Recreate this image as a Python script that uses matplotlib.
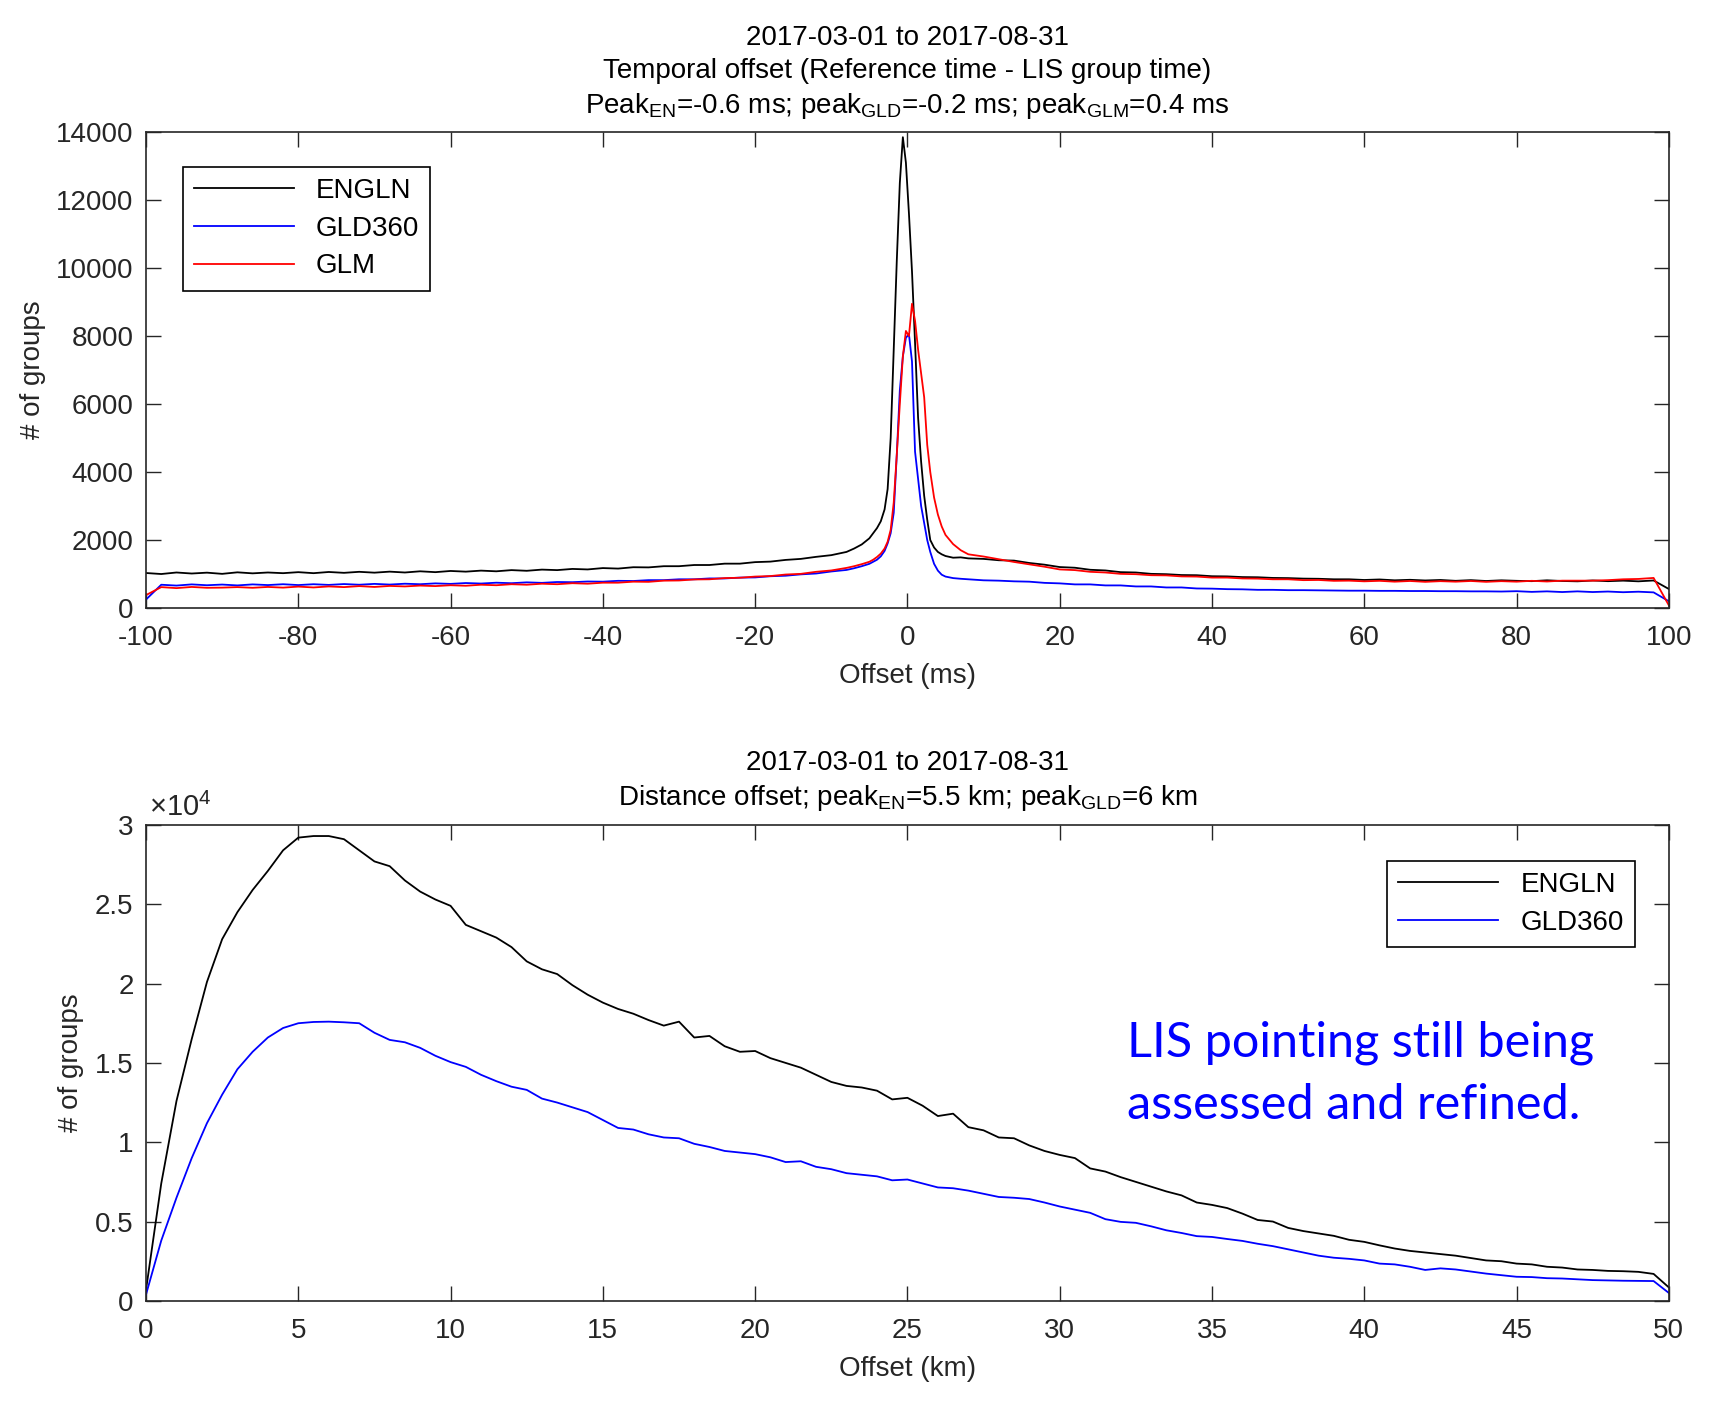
import numpy as np
import matplotlib.pyplot as plt
from matplotlib.ticker import FuncFormatter

plt.rcParams['font.family'] = ['Liberation Sans', 'DejaVu Sans']
plt.rcParams['mathtext.fontset'] = 'custom'
plt.rcParams['mathtext.rm'] = 'Liberation Sans'
plt.rcParams['mathtext.it'] = 'Liberation Sans:italic'
plt.rcParams['axes.unicode_minus'] = False

# ---- temporal offset histogram (ms) ----
t_left = np.arange(-100, -7, 2)
t_mid = [-7, -6, -5, -4.5, -4, -3.5, -3, -2.6, -2.2, -1.8, -1.4, -1.0, -0.6, -0.2,
         0.2, 0.6, 1.0, 1.4, 1.8, 2.2, 2.6, 3.0, 3.5, 4, 4.5, 5, 6, 7]
t_right = np.arange(8, 101, 2)
t_offset = np.concatenate([t_left, t_mid, t_right])

engln_t = [1030, 1000, 1045, 1015, 1040, 1005, 1050, 1020, 1045, 1025,
           1055, 1025, 1060, 1035, 1065, 1040, 1070, 1045, 1080, 1055,
           1090, 1070, 1100, 1080, 1115, 1095, 1130, 1115, 1150, 1135,
           1175, 1160, 1200, 1195, 1230, 1230, 1265, 1265, 1305, 1305,
           1350, 1365, 1415, 1445, 1505, 1555, 1650,
           1750, 1870, 2050, 2200, 2350, 2550, 2900, 3500, 5000, 7600, 10200, 12500, 13850, 13100,
           11600, 9900, 7800, 5600, 4300, 3300, 2600, 2000, 1780, 1650, 1580, 1530, 1480, 1490,
           1460, 1445, 1405, 1395, 1325, 1275, 1205, 1185, 1125, 1105,
           1055, 1045, 1005, 995, 970, 965, 935, 930, 910, 905,
           885, 880, 865, 860, 845, 845, 825, 840, 815, 830,
           810, 825, 800, 820, 795, 815, 800, 790, 815, 795,
           785, 810, 790, 805, 785, 810, 560]

gld_t = [250, 685, 660, 695, 670, 690, 665, 695, 675, 700,
         675, 700, 680, 705, 685, 710, 690, 715, 700, 725,
         710, 735, 720, 745, 730, 755, 740, 765, 760, 780,
         775, 800, 795, 820, 820, 845, 845, 870, 870, 895,
         900, 935, 950, 990, 1015, 1075, 1120,
         1170, 1230, 1300, 1360, 1420, 1520, 1680, 1900, 2200, 2800, 4500, 6400, 7400, 7950,
         8050, 7250, 4600, 3800, 3000, 2500, 2000, 1650, 1300, 1100, 980, 925, 880, 860,
         845, 815, 805, 785, 775, 740, 725, 695, 695, 665,
         665, 635, 635, 605, 605, 575, 570, 555, 550, 535,
         535, 525, 525, 520, 515, 510, 510, 505, 505, 500,
         500, 495, 495, 490, 490, 485, 495, 475, 490, 470,
         490, 470, 485, 465, 480, 460, 200]

glm_t = [380, 615, 585, 620, 595, 600, 615, 595, 620, 600,
         630, 605, 635, 615, 645, 620, 650, 635, 660, 645,
         670, 655, 685, 670, 700, 685, 715, 700, 730, 715,
         745, 745, 775, 770, 805, 810, 840, 845, 880, 890,
         925, 940, 985, 1005, 1065, 1105, 1180,
         1230, 1290, 1360, 1420, 1500, 1600, 1750, 1950, 2300, 3100, 4500, 6000, 7400, 8150,
         8000, 8950, 8450, 7600, 6900, 6200, 4800, 4000, 3250, 2750, 2400, 2150, 1880, 1700,
         1580, 1515, 1435, 1355, 1285, 1215, 1135, 1115, 1065, 1045,
         1005, 995, 965, 960, 930, 925, 895, 895, 870, 865,
         845, 845, 820, 825, 800, 805, 785, 800, 775, 795,
         770, 790, 775, 795, 770, 790, 775, 800, 780, 805,
         805, 805, 820, 845, 855, 885, 80]

# ---- distance offset histogram (km) ----
d_offset = np.arange(0, 50.01, 0.5)
engln_d = [700, 7400, 12600, 16500, 20100, 22800, 24500, 25900, 27100, 28400,
           29200, 29300, 29300, 29100, 28400, 27700, 27400, 26500, 25800, 25300,
           24900, 23700, 23300, 22900, 22300, 21400, 20900, 20600, 19900, 19300,
           18800, 18400, 18100, 17700, 17350, 17600, 16600, 16700, 16050, 15700,
           15750, 15300, 15000, 14700, 14250, 13800, 13550, 13450, 13250, 12700,
           12800, 12300, 11650, 11800, 10950, 10750, 10300, 10250, 9800, 9450,
           9200, 9000, 8350, 8150, 7800, 7500, 7200, 6900, 6650, 6200,
           6050, 5850, 5500, 5100, 5000, 4600, 4400, 4250, 4100, 3850,
           3720, 3500, 3300, 3150, 3050, 2950, 2850, 2700, 2550, 2500,
           2350, 2300, 2150, 2100, 1980, 1950, 1890, 1870, 1830, 1700, 850]
gld_d = [400, 3800, 6500, 9000, 11200, 13000, 14600, 15700, 16600, 17200,
         17500, 17580, 17600, 17560, 17500, 16900, 16450, 16300, 15950, 15450,
         15050, 14750, 14250, 13850, 13500, 13300, 12750, 12500, 12200, 11900,
         11400, 10900, 10800, 10500, 10300, 10250, 9900, 9700, 9450, 9350,
         9250, 9050, 8750, 8800, 8450, 8300, 8050, 7950, 7850, 7600,
         7650, 7400, 7150, 7100, 6950, 6750, 6550, 6500, 6420, 6200,
         5950, 5750, 5550, 5150, 4980, 4920, 4700, 4450, 4280, 4080,
         4030, 3900, 3780, 3600, 3450, 3250, 3050, 2850, 2720, 2650,
         2550, 2350, 2300, 2150, 1950, 2050, 1980, 1850, 1720, 1620,
         1520, 1500, 1430, 1410, 1360, 1310, 1290, 1270, 1260, 1250, 500]

FS = 20
GRAY = '0.15'

fig = plt.figure(figsize=(17.24, 14.14), dpi=100)
ax1 = fig.add_axes([0.0847, 0.570, 0.8833, 0.3366])
ax2 = fig.add_axes([0.0847, 0.080, 0.8833, 0.3366])


def style(ax):
    ax.tick_params(direction='in', length=11, width=1, top=True, right=True,
                   colors=GRAY, labelsize=FS, pad=9)
    ax.tick_params(axis='x', pad=12)
    for s in ax.spines.values():
        s.set_color(GRAY)
        s.set_linewidth(1.2)


ax1.plot(t_offset, engln_t, color='black', lw=1.3, label='ENGLN')
ax1.plot(t_offset, gld_t, color='blue', lw=1.3, label='GLD360')
ax1.plot(t_offset, glm_t, color='red', lw=1.3, label='GLM')
ax1.set_xlim(-100, 100)
ax1.set_ylim(0, 14000)
ax1.set_xticks(range(-100, 101, 20))
ax1.set_yticks(range(0, 14001, 2000))
style(ax1)
ax1.set_xlabel('Offset (ms)', fontsize=FS, color=GRAY)
ax1.set_ylabel('# of groups', fontsize=FS, color=GRAY)
ax1.xaxis.set_label_coords(0.5, -0.116)
ax1.yaxis.set_label_coords(-0.066, 0.5)
ax1.set_title('2017-03-01 to 2017-08-31\nTemporal offset (Reference time - LIS group time)\n'
              r'Peak$_{\mathrm{EN}}$=-0.6 ms; peak$_{\mathrm{GLD}}$=-0.2 ms; peak$_{\mathrm{GLM}}$=0.4 ms',
              fontsize=FS, linespacing=1.32, pad=14)
leg1 = ax1.legend(loc='upper left', bbox_to_anchor=(0.024, 0.9265), borderaxespad=0,
                  fontsize=FS, handlelength=3.6, fancybox=False, edgecolor='black',
                  framealpha=1, labelspacing=0.42, borderpad=0.4)
leg1.get_frame().set_linewidth(1.2)

ax2.plot(d_offset, engln_d, color='black', lw=1.3, label='ENGLN')
ax2.plot(d_offset, gld_d, color='blue', lw=1.3, label='GLD360')
ax2.set_xlim(0, 50)
ax2.set_ylim(0, 30000)
ax2.set_xticks(range(0, 51, 5))
ax2.set_yticks(np.arange(0, 30001, 5000))
ax2.yaxis.set_major_formatter(FuncFormatter(lambda v, p: '%g' % (v / 1e4)))
style(ax2)
ax2.text(0.002, 1.006, '×10$^4$', transform=ax2.transAxes, ha='left', va='bottom',
         fontsize=FS + 1, color=GRAY)
ax2.set_xlabel('Offset (km)', fontsize=FS, color=GRAY)
ax2.set_ylabel('# of groups', fontsize=FS, color=GRAY)
ax2.xaxis.set_label_coords(0.5, -0.116)
ax2.yaxis.set_label_coords(-0.041, 0.5)
ax2.set_title('2017-03-01 to 2017-08-31\n'
              r'Distance offset; peak$_{\mathrm{EN}}$=5.5 km; peak$_{\mathrm{GLD}}$=6 km',
              fontsize=FS, linespacing=1.32, pad=14)
leg2 = ax2.legend(loc='upper right', bbox_to_anchor=(0.9777, 0.924), borderaxespad=0,
                  fontsize=FS, handlelength=3.6, fancybox=False, edgecolor='black',
                  framealpha=1, labelspacing=0.42, borderpad=0.4)
leg2.get_frame().set_linewidth(1.2)

ax2.text(0.644, 0.59, 'LIS pointing still being\nassessed and refined.',
         transform=ax2.transAxes, ha='left', va='top', color='blue',
         fontsize=35, family=['Lato', 'DejaVu Sans'], linespacing=1.5)

fig.savefig('out.png', dpi=100)
